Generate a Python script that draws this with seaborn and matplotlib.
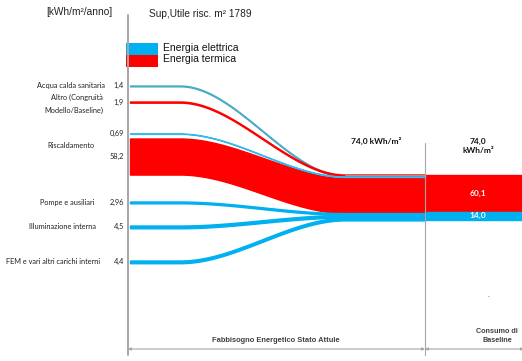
import numpy as np
import matplotlib.pyplot as plt
import seaborn as sns

# data
categories = ["Acqua calda sanitaria", "Altro (Congruità\nModello/Baseline)", "",
              "Riscaldamento", "Pompe e ausiliari", "Illuminazione interna",
              "FEM e vari altri carichi interni"]
values = [1.4, 1.9, 0.69, 58.2, 2.96, 4.5, 4.4]
vectors = ["elettrica", "termica", "elettrica", "termica", "elettrica", "elettrica", "elettrica"]
value_labels = ["1,4", "1,9", "0,69", "58,2", "2,96", "4,5", "4,4"]
stack_order = [1, 0, 2, 3, 4, 5, 6]  # top to bottom on the right side
legend_labels = ["Energia elettrica", "Energia termica"]
baseline_vectors = ["termica", "elettrica"]
baseline_values = [60.1, 14.0]
total_value = 74.0

# layout (pixel space, y downward)
left_top = [85.5, 101.5, 133.5, 138.5, 201.5, 225.5, 260.5]
label_x = [105, 103, 0, 95, 94, 96, 100]
SCALE = 0.62
X_START, X_B0, X_B1, X_DIV, X_END = 130, 180, 345, 425, 522
Y_STACK = 174.5

colors = {"elettrica": "#00B0F0", "termica": "#FF0000"}
line_colors = ["#4BACC6", "#FF0000", "#33BBEE", "#FF0000", "#00B0F0", "#00B0F0", "#00B0F0"]


def fmt(v):
    return f"{v:.1f}".replace('.', ',')


sns.set_theme(style="white")
plt.rcParams['font.family'] = ['Liberation Sans', 'DejaVu Sans']

fig = plt.figure(figsize=(5.22, 3.61), dpi=100)
ax = fig.add_axes([0, 0, 1, 1])
ax.set_xlim(0, 522)
ax.set_ylim(361, 0)
ax.axis('off')

# right side stacked positions
right_top = {}
y = Y_STACK
for i in stack_order:
    right_top[i] = y
    y += values[i] * SCALE

x = np.linspace(X_START, X_DIV, 400)
t = np.clip((x - X_B0) / (X_B1 - X_B0), 0, 1)
s = t * t * (3 - 2 * t)

for i, v in enumerate(values):
    top = left_top[i] + (right_top[i] - left_top[i]) * s
    bot = top + v * SCALE
    c = line_colors[i]
    ax.fill_between(x, top, bot, color=c, lw=1.0, edgecolor=c, zorder=3 if v < 10 else 2)

# baseline block
yb = Y_STACK
for k, v in zip(baseline_vectors, baseline_values):
    h = v * SCALE
    ax.fill_between([X_DIV, X_END], yb, yb + h, color=colors[k], lw=1.0, edgecolor=colors[k])
    ax.text(478, yb + h / 2 - (0.5 if k == "elettrica" else 0), fmt(v), color='white',
            fontsize=6, fontweight='bold', ha='center', va='center', family=['Lato'])
    yb += h

# axis lines
ax.plot([128, 128], [15, 355], color='#A6A6A6', lw=1.4, zorder=5)
ax.plot([X_DIV, X_DIV], [143, 355], color='#A6A6A6', lw=0.8, zorder=5)
ax.plot([X_B1, X_DIV], [Y_STACK, Y_STACK], color='#A6A6A6', lw=0.6, zorder=4)

# left labels
for i, cat in enumerate(categories):
    yc = left_top[i] + values[i] * SCALE / 2
    if cat:
        yl = yc if i not in (1, 3) else (104 if i == 1 else 145)
        ax.text(label_x[i], yl, cat, fontsize=5.3, ha='right', va='center',
                color='#222222', family=['Lato'], linespacing=2.0)
    yv = yc if i != 3 else 156
    ax.text(124, yv, value_labels[i], fontsize=5.3, ha='right', va='center',
            color='#222222', family=['Lato'])

# titles
ax.text(79, 12, "[kWh/m²/anno]", fontsize=7.3, ha='center', va='center', color='#222222')
ax.text(200, 14, "Sup,Utile risc. m² 1789", fontsize=7.3, ha='center', va='center', color='#222222')
ax.text(376, 141, f"{fmt(total_value)} kWh/m²", fontsize=6, fontweight='bold',
        ha='center', va='center', family=['Lato'], color='#111111')
ax.text(478, 146, f"{fmt(total_value)}\nkWh/m²", fontsize=6, fontweight='bold',
        ha='center', va='center', family=['Lato'], color='#111111', linespacing=1.4)

# legend
for j, k in enumerate(["elettrica", "termica"]):
    ax.add_patch(plt.Rectangle((126, 43 + 12 * j), 32, 12, color=colors[k], lw=0))
    ax.text(163, 48 + 11 * j, legend_labels[j], fontsize=7.5, ha='left', va='center', color='#111111')

# bottom arrows
arrow_kw = dict(arrowstyle='<|-|>', color='#A6A6A6', lw=0.8, mutation_scale=4, shrinkA=0, shrinkB=0)
ax.annotate('', xy=(128, 349), xytext=(X_DIV, 349), arrowprops=arrow_kw)
ax.annotate('', xy=(X_DIV, 349), xytext=(X_END + 2, 349), arrowprops=arrow_kw)
ax.text(276, 341, "Fabbisogno Energetico Stato Attule", fontsize=5.4, fontweight='bold',
        ha='center', va='center', color='#404040')
ax.text(497, 336, "Consumo di\nBaseline", fontsize=5.2, fontweight='bold',
        ha='center', va='center', color='#404040', linespacing=1.3)
ax.text(489, 297, "-", fontsize=4, ha='center', va='center', color='#404040')

fig.savefig("out.png", dpi=100)
